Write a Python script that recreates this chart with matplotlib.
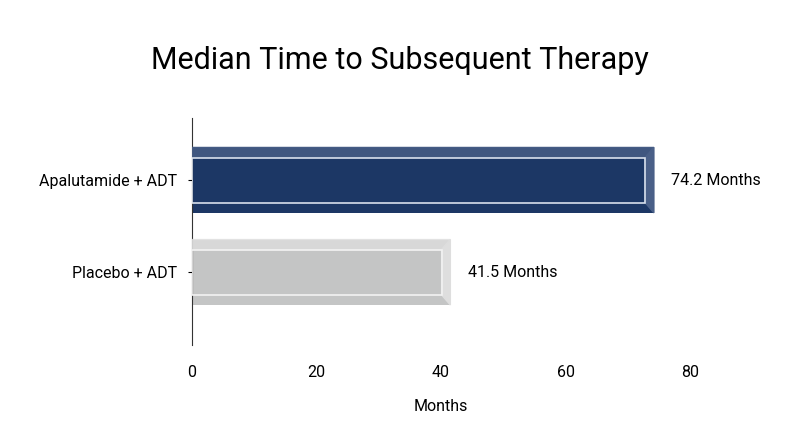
import matplotlib
matplotlib.use("Agg")
import matplotlib.pyplot as plt
from matplotlib.patches import Polygon, Rectangle

categories = ["Placebo + ADT", "Apalutamide + ADT"]
values = [41.5, 74.2]
labels = ["41.5 Months", "74.2 Months"]
colors = ["#c4c5c5", "#1c3765"]
bevel_colors = ["#dedede", "#4a6088"]
line_colors = ["#f2f2f2", "#d8e0ec"]
xticks = [0, 20, 40, 60, 80]

plt.rcParams['font.family'] = ['Roboto', 'DejaVu Sans']
fig = plt.figure(figsize=(8, 4.47), dpi=100)
ax = fig.add_axes([0.24, 0.228, 0.6225, 0.508])
h = 0.71
bars = ax.barh(range(len(values)), values, height=h, color=colors, edgecolor="none", zorder=2)
for i, (v, b) in enumerate(zip(values, bars)):
    y0, y1 = i - h/2, i + h/2
    dx = 1.4; dy = 0.11
    # bevel on right side
    ax.add_patch(Polygon([[v - dx, y0 + dy], [v, y0], [v, y1], [v - dx, y1 - dy]],
                         closed=True, color=bevel_colors[i], zorder=3))
    ax.add_patch(Polygon([[0, y1], [v, y1], [v - dx, y1 - dy], [0, y1 - dy]],
                         closed=True, color=bevel_colors[i], zorder=3, alpha=0.8))
    ax.add_patch(Rectangle((0, y0 + dy), v - dx, (y1 - dy) - (y0 + dy), fill=False,
                           edgecolor=line_colors[i], lw=1.2, zorder=4))
    ax.text(v + 2.8, i, labels[i], va="center", ha="left", fontsize=11.5, zorder=5)

ax.set_xlim(0, 80)
ax.set_ylim(-0.79, 1.674)
ax.set_xticks(xticks)
ax.set_yticks(range(len(categories)))
ax.set_yticklabels(categories, fontsize=11.5)
ax.tick_params(axis="x", length=0, labelsize=11.5, pad=14)
ax.tick_params(axis="y", length=3, labelsize=11.5, pad=8)
for s in ["top", "right", "bottom"]:
    ax.spines[s].set_visible(False)
ax.spines["left"].set_color("#333333")
ax.set_xlabel("Months", fontsize=11.5, labelpad=14)
fig.text(0.5, 0.865, "Median Time to Subsequent Therapy", ha="center", va="center", fontsize=22)
fig.savefig("out.png", dpi=100)
